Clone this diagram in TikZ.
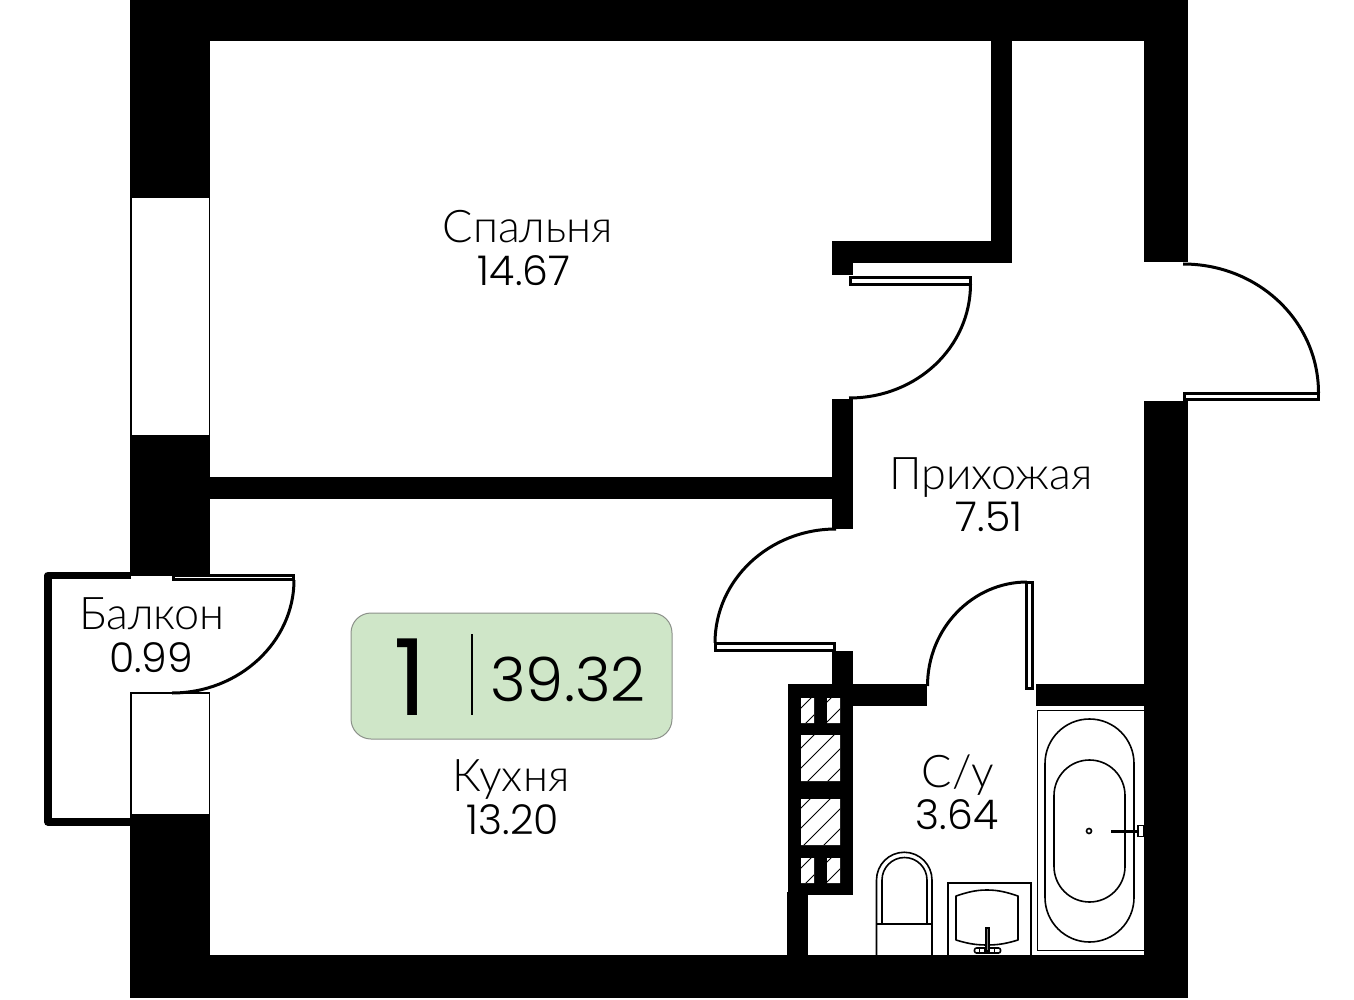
\documentclass[tikz,border=0pt]{standalone}
\usepackage{fontspec}
\setmainfont{Lato Light}
\newfontfamily\numfont{Poppins Light}
\newfontfamily\onefont{Poppins}
\definecolor{badge}{HTML}{CFE6C8}
\definecolor{badgeline}{HTML}{8C918A}
\tikzset{
  wall/.style={fill=black,draw=none},
  leaf/.style={draw=black,line width=3pt,fill=white,line join=miter},
  swing/.style={draw=black,line width=3pt},
  glass/.style={draw=black,line width=1.2pt,fill=white},
  fixture/.style={draw=black,line width=1.6pt},
  hatchline/.style={draw=black,line width=.9pt},
  word/.style={anchor=base,inner sep=0pt,font=\fontsize{45}{45}\selectfont},
  num/.style={anchor=base,inner sep=0pt,font=\numfont\fontsize{41}{41}\selectfont}
}
\begin{document}
\begin{tikzpicture}[x=1pt,y=-1pt]
\useasboundingbox (0,0) rectangle (1354,1000);
\fill[white] (0,0) rectangle (1354,1000);
% windows
\draw[glass] (131,197) rectangle (209.5,436);
\draw[glass] (131,693) rectangle (209.5,815);
% outer walls
\fill[wall] (130,0) rectangle (1188,41);
\fill[wall] (130,0) rectangle (210,197);
\fill[wall] (130,436) rectangle (210,576);
\fill[wall] (130,815) rectangle (210,998);
\fill[wall] (130,955) rectangle (1188,998);
\fill[wall] (1144,0) rectangle (1188,262);
\fill[wall] (1144,401) rectangle (1188,998);
% partitions
\fill[wall] (991,41) rectangle (1012,263);
\fill[wall] (832,241) rectangle (1012,263);
\fill[wall] (832,241) rectangle (853,275);
\fill[wall] (832,399) rectangle (853,529);
\fill[wall] (210,477) rectangle (853,499);
\fill[wall] (832,651) rectangle (853,706);
\fill[wall] (788,684) rectangle (927,706);
\fill[wall] (1036,684) rectangle (1144,706);
% shaft
\fill[wall] (788,684) rectangle (853,895);
\fill[wall] (787,892) rectangle (808,955);
\fill[white] (801,698) rectangle (814,723) (827,698) rectangle (840,723)
  (801,735) rectangle (840,781) (801,799) rectangle (840,845)
  (801,858) rectangle (814,883) (827,858) rectangle (840,883);
\begin{scope}
\clip (801,698) rectangle (814,723) (827,698) rectangle (840,723)
  (801,735) rectangle (840,781) (801,799) rectangle (840,845)
  (801,858) rectangle (814,883) (827,858) rectangle (840,883);
\foreach \s in {1509,1529,...,1749}{
  \draw[hatchline] ({\s-900},900) -- ({\s-690},690);
}
\end{scope}
% balcony
\draw[line width=7.5pt,line join=round] (131,575.5) -- (48,575.5) -- (48,822) -- (131,822);
% door leaves and swings
\draw[leaf] (850,277.5) rectangle (970.5,284.5);
\draw[swing] (970.5,284) .. controls (970.5,347) and (917,398) .. (849,398);
\draw[leaf] (1184.5,393.5) rectangle (1318.5,399.5);
\draw[swing] (1183,264) .. controls (1258,264) and (1318.5,321) .. (1318.5,393);
\draw[leaf] (715.5,643.5) rectangle (834.5,650.5);
\draw[swing] (836,529) .. controls (769,529) and (715,580) .. (715,643);
\draw[leaf] (1026.5,582.5) rectangle (1032.5,688);
\draw[swing] (1027,582) .. controls (973,582) and (927.5,628) .. (927.5,686);
\draw[leaf] (173.5,575) rectangle (293.5,579.5);
\draw[swing] (294,580) .. controls (294,642) and (239,693) .. (172,693);
% bath
\draw[fixture] (1144,710.5) -- (1037.5,710.5) -- (1037.5,950.5) -- (1144,950.5);
\draw[fixture] (1045,763.5) arc[start angle=180,end angle=360,radius=44.5] -- (1134,897.5) arc[start angle=0,end angle=180,radius=44.5] -- cycle;
\draw[fixture] (1054,795.5) arc[start angle=180,end angle=360,radius=35.5] -- (1125,866.5) arc[start angle=0,end angle=180,radius=35.5] -- cycle;
\draw[fixture] (1089,831) circle[radius=2.5];
\draw[line width=3pt] (1111,831) -- (1138,831);
\draw[fixture,fill=white] (1138,825.5) rectangle (1144,836.5);
% toilet
\draw[fixture] (876.5,955) -- (876.5,880) arc[start angle=180,end angle=360,radius=27.75] -- (932,955);
\draw[fixture] (882,924) -- (882,880) arc[start angle=180,end angle=360,radius=22.5] -- (927,924);
\draw[fixture] (876.5,924) -- (932,924);
% sink
\draw[fixture] (948,955) -- (948,883) -- (1031,883) -- (1031,955);
\draw[fixture,line join=round] (956,896) .. controls (968,892) and (976,890) .. (987,890) .. controls (998,890) and (1006,892) .. (1018,896) -- (1018,940) .. controls (1008,943) and (1000,945) .. (987,945) .. controls (974,945) and (966,943) .. (956,940) -- cycle;
\draw[fixture,fill=white,rounded corners=2pt] (974.5,948) rectangle (1000.5,953);
\foreach \t in {979,984,989,994}{\draw[line width=1pt] (\t,948) -- (\t,953);}
\draw[draw=black,line width=1.2pt,fill=gray] (986,928) rectangle (989,951);
% badge
\node[draw=badgeline,fill=badge,line width=1pt,rounded corners=20pt,minimum width=321pt,minimum height=126pt,inner sep=0pt] (badge) at (511.5,676) {};
\node[anchor=base,inner sep=0pt,font=\onefont\fontsize{106}{106}\selectfont] (rooms) at (410,715) {1};
\coordinate (divtop) at (472,634);
\coordinate (divbot) at (472,715);
\draw[line width=1.6pt] (divtop) -- (divbot);
\node[anchor=base,inner sep=0pt,font=\numfont\fontsize{61}{61}\selectfont] (total) at (568,701) {39.32};
% labels
\node[word] (bedroom) at (528,243) {Спальня};
\node[num] (bedroomA) at (524,285) {14.67};
\node[word] (hall) at (991,489) {Прихожая};
\node[num] (hallA) at (989,531) {7.51};
\node[word] (balcony) at (152,629) {Балкон};
\node[num] (balconyA) at (151,672) {0.99};
\node[word] (kitchen) at (511,791) {Кухня};
\node[num] (kitchenA) at (513,834) {13.20};
\node[word] (wc) at (958,787) {С/у};
\node[num] (wcA) at (957,829) {3.64};
\end{tikzpicture}
\end{document}
